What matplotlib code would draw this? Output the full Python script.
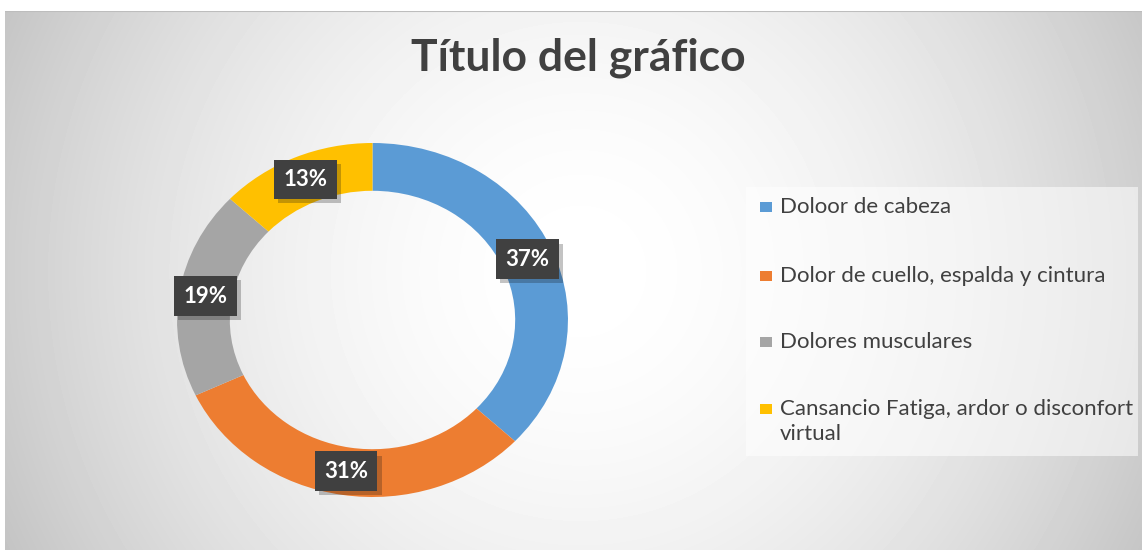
import numpy as np
import matplotlib.pyplot as plt
from matplotlib.patches import Rectangle
import matplotlib.patheffects as pe

plt.rcParams['font.family'] = ['Lato', 'DejaVu Sans']

title = 'Título del gráfico'
categories = ['Doloor de cabeza',
              'Dolor de cuello, espalda y cintura',
              'Dolores musculares',
              'Cansancio Fatiga, ardor o disconfort\nvirtual']
values = [37, 31, 19, 13]
colors = ['#5B9BD5', '#ED7D31', '#A5A5A5', '#FFC000']

W, H = 1142, 550
fig = plt.figure(figsize=(W / 100, H / 100), dpi=100)
fig.patch.set_facecolor('white')

# chart area background: soft radial gradient
bg = fig.add_axes([5 / W, 0, 1 - 5 / W, (H - 11) / H])
bg.set_axis_off()
yy, xx = np.mgrid[0:539, 0:1137]
d = np.hypot(xx - 575, yy - 260) / 630.0
shade = 255 - 58 * d ** 1.8
bg.imshow(shade, cmap='gray', vmin=0, vmax=255, aspect='auto',
          extent=[0, 1, 0, 1], interpolation='bilinear')
bg.set_xlim(0, 1)
bg.set_ylim(0, 1)
bg.axhline(1, color='#bdbdbd', lw=1.5)

# donut
ax = fig.add_axes([157.5 / W, 35.3 / H, 430 / W, 389.4 / H])
ax.set_axis_off()
wedges, texts, autotexts = ax.pie(
    values, colors=colors, startangle=90, counterclock=False,
    radius=1, wedgeprops=dict(width=0.27, linewidth=0),
    autopct='%1.0f%%', pctdistance=0.865)
ax.set_xlim(-1.1, 1.1)
ax.set_ylim(-1.1, 1.1)
ax.set_aspect('auto')
for t in autotexts:
    t.set_color('white')
    t.set_fontsize(16)
    t.set_fontweight('bold')
    t.set_bbox(dict(boxstyle='square,pad=0.42', facecolor='#404040',
                    edgecolor='none', linewidth=0))
    t.get_bbox_patch().set_path_effects(
        [pe.SimplePatchShadow(offset=(3, -3), alpha=0.25), pe.Normal()])

fig.text(578 / W, 1 - 58 / H, title, ha='center', va='center',
         fontsize=32, fontweight='bold', color='#404040')

# legend
fig.patches.append(Rectangle((746 / W, 1 - 456 / H), 392 / W, 269 / H,
                             transform=fig.transFigure, facecolor='white',
                             alpha=0.55, edgecolor='none'))
rows = [207, 276, 342, 409]
for lab, col, yr in zip(categories, colors, rows):
    fig.patches.append(Rectangle((760 / W, 1 - (yr + 5) / H), 12 / W, 10 / H,
                                 transform=fig.transFigure, facecolor=col,
                                 edgecolor='none'))
    fig.text(780 / W, 1 - (yr - 10) / H, lab, ha='left', va='top',
             fontsize=16, color='#404040', linespacing=1.3)

fig.savefig('out.png', dpi=100)
